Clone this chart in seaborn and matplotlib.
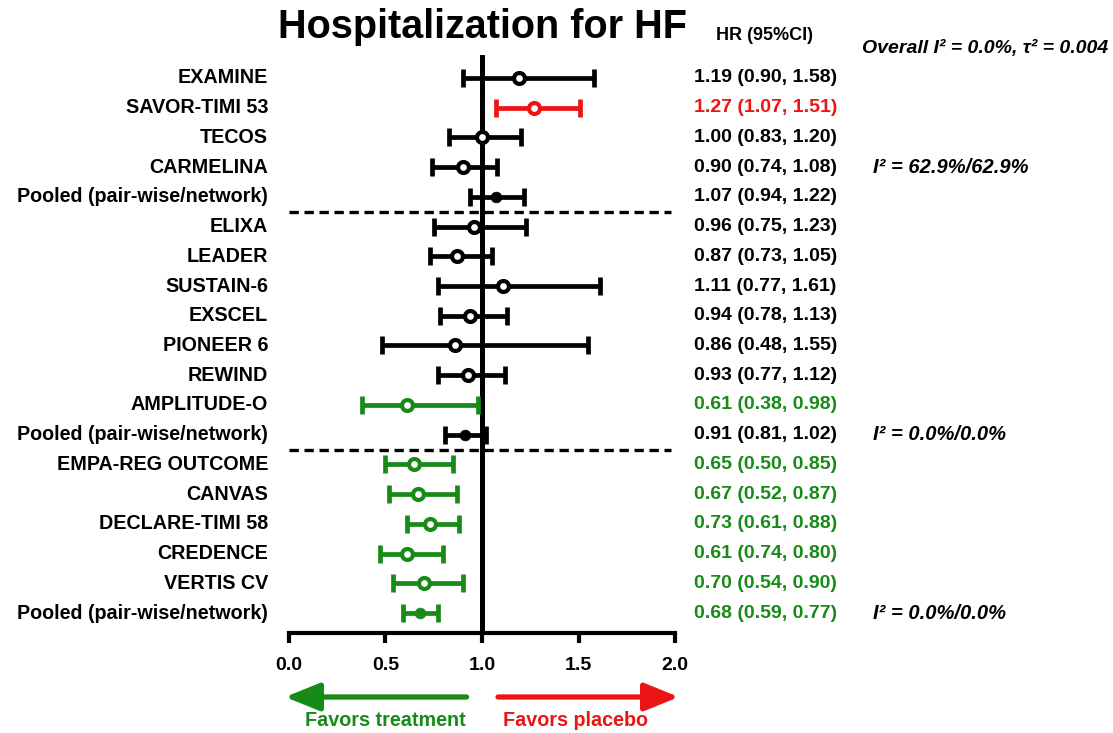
import matplotlib
matplotlib.use("Agg")
import matplotlib.pyplot as plt
import seaborn as sns
import pandas as pd
import numpy as np
from matplotlib.transforms import blended_transform_factory

# ---------------- data ----------------
studies = ["EXAMINE", "SAVOR-TIMI 53", "TECOS", "CARMELINA",
           "Pooled (pair-wise/network)",
           "ELIXA", "LEADER", "SUSTAIN-6", "EXSCEL", "PIONEER 6", "REWIND",
           "AMPLITUDE-O", "Pooled (pair-wise/network)",
           "EMPA-REG OUTCOME", "CANVAS", "DECLARE-TIMI 58", "CREDENCE",
           "VERTIS CV", "Pooled (pair-wise/network)"]
hr = [1.19, 1.27, 1.00, 0.90, 1.07,
      0.96, 0.87, 1.11, 0.94, 0.86, 0.93, 0.61, 0.91,
      0.65, 0.67, 0.73, 0.61, 0.70, 0.68]
lower = [0.90, 1.07, 0.83, 0.74, 0.94,
         0.75, 0.73, 0.77, 0.78, 0.48, 0.77, 0.38, 0.81,
         0.50, 0.52, 0.61, 0.47, 0.54, 0.59]
upper = [1.58, 1.51, 1.20, 1.08, 1.22,
         1.23, 1.05, 1.61, 1.13, 1.55, 1.12, 0.98, 1.02,
         0.85, 0.87, 0.88, 0.80, 0.90, 0.77]
hr_text = ["1.19 (0.90, 1.58)", "1.27 (1.07, 1.51)", "1.00 (0.83, 1.20)",
           "0.90 (0.74, 1.08)", "1.07 (0.94, 1.22)", "0.96 (0.75, 1.23)",
           "0.87 (0.73, 1.05)", "1.11 (0.77, 1.61)", "0.94 (0.78, 1.13)",
           "0.86 (0.48, 1.55)", "0.93 (0.77, 1.12)", "0.61 (0.38, 0.98)",
           "0.91 (0.81, 1.02)", "0.65 (0.50, 0.85)", "0.67 (0.52, 0.87)",
           "0.73 (0.61, 0.88)", "0.61 (0.74, 0.80)", "0.70 (0.54, 0.90)",
           "0.68 (0.59, 0.77)"]
effect = ["none", "harm", "none", "none", "none",
          "none", "none", "none", "none", "none", "none", "benefit", "none",
          "benefit", "benefit", "benefit", "benefit", "benefit", "benefit"]
pooled = [False, False, False, False, True,
          False, False, False, False, False, False, False, True,
          False, False, False, False, False, True]
xticks = [0.0, 0.5, 1.0, 1.5, 2.0]
xtick_labels = ["0.0", "0.5", "1.0", "1.5", "2.0"]
heterogeneity = {3: "I² = 62.9%/62.9%", 12: "I² = 0.0%/0.0%", 18: "I² = 0.0%/0.0%"}
overall_text = "Overall I² = 0.0%, τ² = 0.004"
title = "Hospitalization for HF"

GREEN = "#178a17"
RED = "#ec1515"
palette = {"none": "black", "harm": RED, "benefit": GREEN}

df = pd.DataFrame({"study": studies, "hr": hr, "lo": lower, "hi": upper,
                   "label": hr_text, "effect": effect, "pooled": pooled})
df["row"] = np.arange(len(df))

# ---------------- style ----------------
sns.set_theme(style="white")
plt.rcParams["font.family"] = ["Liberation Sans", "DejaVu Sans"]
plt.rcParams["font.weight"] = "bold"
plt.rcParams["text.color"] = "black"
plt.rcParams["xtick.color"] = "black"
plt.rcParams["axes.labelcolor"] = "black"

fig = plt.figure(figsize=(11.13, 7.33), dpi=100)
ax = fig.add_axes([289 / 1113, 1 - 633 / 733, 386 / 1113, (633 - 55) / 733])

# error bars
for eff, sub in df.groupby("effect"):
    c = palette[eff]
    ax.errorbar(sub["hr"], sub["row"],
                xerr=[sub["hr"] - sub["lo"], sub["hi"] - sub["hr"]],
                fmt="none", ecolor=c, elinewidth=3.4, capsize=6.3,
                capthick=3.4, zorder=3)

# points
for eff, sub in df.groupby("effect"):
    c = palette[eff]
    op = sub[~sub["pooled"]]
    pl = sub[sub["pooled"]]
    if len(op):
        sns.scatterplot(data=op, x="hr", y="row", color="white", edgecolor=c,
                        linewidth=3.0, s=62, zorder=5, ax=ax, legend=False)
    if len(pl):
        sns.scatterplot(data=pl, x="hr", y="row", color=c, edgecolor=c,
                        linewidth=0.5, s=60, zorder=5, ax=ax, legend=False)

ax.axvline(1.0, color="black", lw=3.6, zorder=2)
ax.hlines([4.5, 12.5], 0, 1.98, colors="black", linestyles=(0, (2.8, 1.7)),
          lw=2.4, zorder=1)

ax.set_xlim(0, 2)
ax.set_ylim(18.67, -0.77)
ax.set_xlabel("")
ax.set_ylabel("")
ax.set_yticks([])
ax.set_xticks(xticks)
ax.set_xticklabels(xtick_labels, fontsize=14, fontweight="bold", color="black")
ax.tick_params(axis="x", direction="out", length=7, width=3, pad=10,
               color="black", bottom=True)
for s in ["top", "right", "left"]:
    ax.spines[s].set_visible(False)
ax.spines["bottom"].set_linewidth(3)
ax.spines["bottom"].set_color("black")
ax.patch.set_alpha(0)

# text columns
for _, r in df.iterrows():
    ax.text(-0.108, r["row"], r["study"], ha="right", va="center",
            fontsize=14.2, fontweight="bold", color="black", clip_on=False)
    ax.text(2.10, r["row"], r["label"], ha="left", va="center",
            fontsize=14, fontweight="bold", color=palette[r["effect"]],
            clip_on=False)

ax.text(2.466, -1.42, "HR (95%CI)", ha="center", va="center", fontsize=13,
        fontweight="bold", color="black", clip_on=False)
ax.text(2.97, -1.0, overall_text, ha="left", va="center", fontsize=14,
        fontweight="bold", style="italic", color="black", clip_on=False)
for r, t in heterogeneity.items():
    ax.text(3.026, r, t, ha="left", va="center", fontsize=14.5,
            fontweight="bold", style="italic", color="black", clip_on=False)

fig.text(483 / 1113, 1 - 27 / 733, title, ha="center", va="center",
         fontsize=28.5, fontweight="bold", color="black")

# arrows
trans = blended_transform_factory(ax.transData, fig.transFigure)
ya = 1 - 697 / 733
ax.annotate("", xy=(-0.02, ya), xytext=(0.92, ya), xycoords=trans,
            textcoords=trans, annotation_clip=False,
            arrowprops=dict(arrowstyle="-|>,head_length=2.1,head_width=0.85",
                            color=GREEN, lw=3.8, shrinkA=0, shrinkB=0,
                            mutation_scale=10))
ax.annotate("", xy=(2.02, ya), xytext=(1.083, ya), xycoords=trans,
            textcoords=trans, annotation_clip=False,
            arrowprops=dict(arrowstyle="-|>,head_length=2.1,head_width=0.85",
                            color=RED, lw=3.8, shrinkA=0, shrinkB=0,
                            mutation_scale=10))
yt = 1 - 720 / 733
ax.text(0.50, yt, "Favors treatment", transform=trans, ha="center",
        va="center", fontsize=14.2, fontweight="bold", color=GREEN)
ax.text(1.486, yt, "Favors placebo", transform=trans, ha="center",
        va="center", fontsize=14.2, fontweight="bold", color=RED)

fig.savefig("out.png", dpi=100)
